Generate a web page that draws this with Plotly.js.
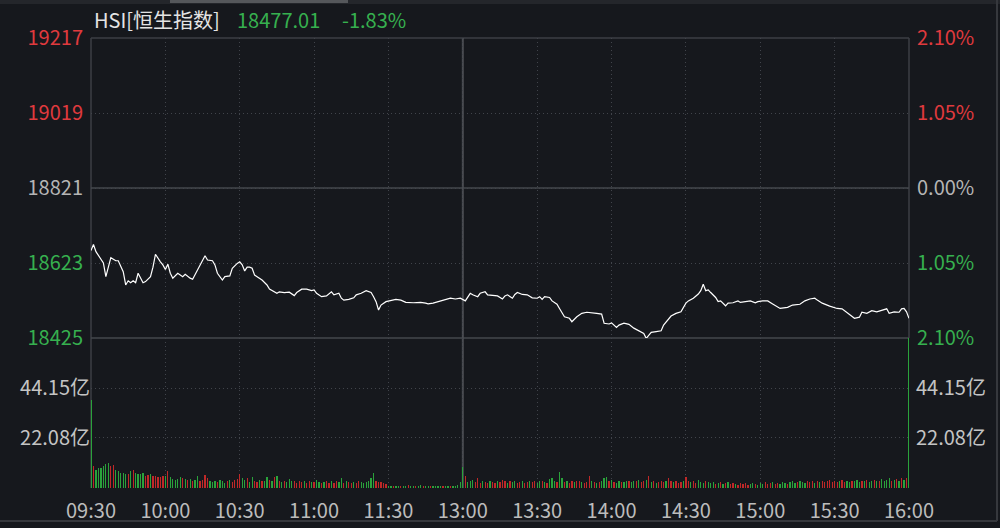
<!DOCTYPE html>
<html><head><meta charset="utf-8">
<script src="https://cdn.plot.ly/plotly-3.0.1.min.js"></script>
<style>html,body{margin:0;padding:0;background:#16181d;}#chart{width:1000px;height:528px;}</style>
</head><body><div id="chart"></div>
<script>
// ---- data ----
const tickMinutes = [0,30,60,90,120,150,180,210,240,270,300,330];
const tickLabels = ['09:30','10:00','10:30','11:00','11:30','13:00','13:30','14:00','14:30','15:00','15:30','16:00'];
const priceMinutes = [0,1,2,5,6,8,10,11,13,14,15,16,17,18,19,21,22,24,25,26,28,29,30,31,32,33,35,37,38,39,40,41,43,44,46,47,49,50,51,53,54,56,57,59,60,61,62,63,64,65,66,67,69,71,72,75,76,78,80,82,83,85,87,89,90,91,93,95,97,98,100,101,102,104,106,107,109,111,113,114,115,116,117,119,120,121,123,125,127,130,133,135,136,138,140,141,143,145,147,149,151,153,154,156,157,158,159,160,162,164,166,167,168,170,171,172,174,176,178,180,181,182,183,185,186,188,189,191,193,194,196,198,200,202,204,206,207,209,210,212,213,215,217,219,221,223,224,226,228,230,231,233,234,236,238,240,241,243,245,246,247,248,249,250,252,253,254,256,257,259,261,262,264,266,268,269,271,273,275,278,281,283,286,288,290,292,293,295,298,301,303,305,308,310,311,313,315,317,319,321,322,324,326,327,328,329,330];
const priceValues = [18656,18672,18653,18623,18587,18637,18629,18629,18600,18565,18576,18571,18576,18571,18596,18571,18574,18587,18612,18646,18626,18618,18606,18620,18596,18583,18596,18587,18593,18587,18583,18580,18605,18618,18642,18631,18629,18618,18596,18578,18587,18589,18609,18622,18626,18618,18602,18612,18612,18609,18591,18587,18578,18565,18554,18543,18547,18545,18546,18537,18545,18554,18554,18550,18552,18543,18534,18536,18547,18539,18543,18530,18525,18527,18531,18539,18543,18550,18545,18534,18521,18499,18512,18521,18523,18523,18527,18525,18519,18518,18519,18517,18515,18517,18521,18521,18525,18530,18528,18530,18523,18543,18539,18534,18543,18545,18547,18539,18538,18536,18528,18536,18539,18530,18540,18545,18540,18539,18531,18530,18534,18527,18534,18532,18523,18514,18503,18481,18477,18468,18481,18490,18493,18492,18490,18488,18464,18462,18465,18453,18459,18464,18461,18451,18443,18437,18424,18440,18442,18444,18459,18475,18483,18490,18494,18517,18523,18530,18541,18550,18567,18550,18552,18545,18532,18521,18523,18510,18517,18518,18523,18519,18521,18523,18518,18521,18523,18523,18515,18503,18506,18512,18514,18523,18528,18530,18525,18517,18509,18503,18502,18492,18477,18480,18493,18490,18497,18494,18497,18502,18490,18494,18493,18502,18503,18494,18477.01];
// turnover per minute (亿), minutes 0..330
const volumeValues = [
38.9,9.6,8.1,8.8,8.8,9.6,10.6,11.0,9.6,10.0,
8.1,7.4,6.6,6.6,6.2,6.2,7.4,8.1,6.6,6.2,
6.2,6.6,5.5,5.9,6.2,5.2,5.2,4.9,4.9,5.2,
5.2,7.4,4.9,4.1,3.7,4.1,4.9,4.4,4.1,3.7,
4.1,3.0,3.7,5.2,3.3,3.7,5.9,4.4,3.0,2.6,
3.3,2.6,3.7,3.3,2.2,3.0,3.7,2.6,3.7,4.1,
6.2,4.4,3.7,4.4,2.6,4.9,3.3,2.6,3.7,3.0,
3.3,4.9,3.7,3.0,4.9,5.5,3.0,2.6,3.3,2.6,
4.1,3.3,3.0,2.2,3.0,2.6,3.0,2.2,3.3,2.6,
2.6,3.7,2.6,2.2,2.6,3.0,2.2,3.0,2.2,3.0,
2.6,4.4,2.2,3.0,2.6,2.2,2.6,2.2,3.0,2.6,
2.2,2.6,3.0,4.4,6.6,3.3,2.6,2.6,2.2,1.8,
0.9,0.7,1.1,0.7,0.9,1.1,0.7,0.9,1.3,0.7,
0.9,0.7,0.9,1.3,0.7,0.9,0.7,1.1,0.9,0.7,
0.7,0.9,1.1,0.7,0.9,1.1,0.7,0.9,1.5,2.6,
9.1,5.2,2.6,3.3,3.7,2.6,4.4,2.2,3.0,2.6,
2.2,3.0,2.6,2.2,3.3,2.6,3.7,3.0,2.2,3.3,
2.6,3.0,2.2,2.6,3.0,2.2,2.6,3.3,2.6,3.0,
2.2,3.3,3.0,2.6,2.2,4.1,4.4,3.0,2.6,7.0,
4.4,2.6,3.0,2.2,3.3,2.6,3.0,3.3,2.6,2.2,
2.6,5.5,3.0,2.6,2.2,2.6,3.0,4.4,4.9,3.0,
3.7,2.6,2.2,3.0,2.6,2.6,3.0,3.3,2.6,3.0,
3.3,3.7,2.6,3.0,3.7,5.3,2.6,3.0,2.2,2.6,
3.0,2.6,3.3,4.4,3.0,2.6,3.3,2.2,2.6,3.0,
4.9,3.0,2.6,3.3,2.2,3.7,2.6,2.2,3.0,2.6,
2.2,2.6,1.8,2.2,2.6,1.8,2.2,2.6,1.8,2.2,
1.8,1.3,2.2,1.8,2.2,1.3,1.8,2.2,1.8,1.3,
2.2,1.8,2.6,1.8,2.2,2.6,1.8,2.2,1.8,2.6,
2.2,1.8,2.6,3.0,2.2,2.6,3.0,2.6,2.2,3.0,
2.6,3.3,2.2,3.0,2.6,3.3,2.6,3.0,3.7,2.6,
3.3,2.6,3.0,3.7,2.6,3.3,2.6,3.0,3.3,3.7,
2.6,3.3,3.0,3.7,2.6,3.3,3.7,3.0,3.3,4.1,
3.3,3.7,4.4,3.0,3.7,4.1,3.3,4.4,3.7,4.4,
80.0];
// g = down minute, r = up minute
const volumeDirection = ("grggggggrr"+"gggggrgrgg"+"ggrrgrrrrr"+"grgggggrgr"+"grggrrrrgg"+"grgggrgrrr"+"rggrggrrgr"+"ggrgrgrgrg"+"ggrrrrgrrg"+"rggrgrrgrr"+
  "ggrgrrgrrg"+"gggggrrrrr"+"ggrggrggrg"+"grggrggrgg"+"ggrggrgggg"+"grgggrrrgr"+"rgrrgrrrgr"+"ggrrgrrgrr"+"ggrgrgggrg"+"grgrrgrrgr"+
  "rrgrgrgggr"+"grggrggrgg"+"rgrrgrgrgr"+"rrgrrgrrrg"+"rrgrrgggrg"+"ggrgrgrgrr"+"grrrrrggrg"+"ggrrrgrrgg"+"grgggrgggr"+"rrgrgrrrrr"+
  "rrgrrggrgg"+"grgrggrgrg"+"gggrgrgrgr"+"g").split('');
const minuteIndex = volumeValues.map((v,i)=>i);
const prevClose = 18821;
const priceTicks = [18425,18623,18821,19019,19217];
const priceTickText = ['18425','18623','18821','19019','19217'];
const pctTickText = ['2.10%','1.05%','0.00%','1.05%','2.10%'];
const volTicks = [22.08,44.15];
const volTickText = ['22.08亿','44.15亿'];
const volMax = 66.23;
const titleName = 'HSI[恒生指数]';
const lastPrice = '18477.01';
const changePct = '-1.83%';

// ---- style ----
const BG = '#16181d', RED = '#e03a3e', GREEN = '#36b04f', GRAYTXT = '#b5b5b5', GRID = '#41444b', LINE = '#3c3e44';
const FONT = '"Microsoft YaHei","Noto Sans CJK SC","Noto Sans",sans-serif';
const FS = 20;
const L = 91, R = 909, T = 38, B = 488, W = 1000, H = 528;
const px = x => (x - L) / (R - L);
const py = y => (B - y) / (B - T);
function colorFor(i, n){ const mid = (n-1)/2; return i > mid ? RED : (i < mid ? GREEN : GRAYTXT); }
const priceTT = priceTickText.map((t,i)=>`<span style="color:${colorFor(i,5)}">${t}</span>`);
const pctTT = pctTickText.map((t,i)=>`<span style="color:${colorFor(i,5)}">${t}</span>`);
const DOTS = '1px,3px';

const traces = [
  {type:'bar', x:minuteIndex, y:volumeValues, xaxis:'x2', yaxis:'y2', width:0.5,
   marker:{color:volumeDirection.map(d=>d==='g'?'#2aa23b':'#bf2828'), line:{width:0}}, hoverinfo:'skip'},
  {type:'bar', x:minuteIndex, y:volumeValues, xaxis:'x2', yaxis:'y4', width:0.5, opacity:0,
   marker:{color:BG}, hoverinfo:'skip'},
  {type:'scatter', mode:'lines', x:priceMinutes, y:priceValues, xaxis:'x', yaxis:'y',
   line:{color:'#ffffff', width:1.2}, hoverinfo:'skip'},
  {type:'scatter', mode:'lines', x:priceMinutes, y:priceValues, xaxis:'x', yaxis:'y3',
   line:{color:'rgba(0,0,0,0)', width:0}, hoverinfo:'skip'}
];

const axisCommon = {showline:false, zeroline:false, fixedrange:true};
const layout = {
  width:W, height:H, paper_bgcolor:BG, plot_bgcolor:BG, showlegend:false, bargap:0,
  margin:{l:L, r:W-R, t:T, b:H-B},
  font:{family:FONT, size:FS, color:GRAYTXT},
  xaxis:Object.assign({}, axisCommon, {domain:[0,1], anchor:'y', range:[0,330], tickvals:tickMinutes, showticklabels:false,
    showgrid:true, gridcolor:GRID, griddash:DOTS, gridwidth:1}),
  xaxis2:Object.assign({}, axisCommon, {domain:[0,1], anchor:'y2', range:[0,330], tickvals:tickMinutes, ticktext:tickLabels,
    showgrid:true, gridcolor:GRID, griddash:DOTS, gridwidth:1, ticks:'outside', ticklen:5, tickcolor:BG,
    tickfont:{size:FS, color:'#bcbcbc'}}),
  yaxis:Object.assign({}, axisCommon, {domain:[1/3,1], anchor:'x', range:[18425,19217], tickvals:priceTicks, ticktext:priceTT,
    showgrid:true, gridcolor:GRID, griddash:DOTS, ticks:'outside', ticklen:3, tickcolor:BG, tickfont:{size:FS}}),
  yaxis3:Object.assign({}, axisCommon, {overlaying:'y', side:'right', anchor:'x', range:[18425,19217], tickvals:priceTicks, ticktext:pctTT,
    showgrid:false, ticks:'outside', ticklen:3, tickcolor:BG, tickfont:{size:FS}}),
  yaxis2:Object.assign({}, axisCommon, {domain:[0,1/3], anchor:'x2', range:[0,volMax], tickvals:volTicks, ticktext:volTickText,
    showgrid:true, gridcolor:GRID, griddash:DOTS, ticks:'', tickfont:{size:FS, color:'#c4c4c4'}}),
  yaxis4:Object.assign({}, axisCommon, {overlaying:'y2', side:'right', anchor:'x2', range:[0,volMax], tickvals:volTicks, ticktext:volTickText,
    showgrid:false, ticks:'outside', ticklen:2, tickcolor:BG, tickfont:{size:FS, color:'#c4c4c4'}}),
  shapes:[
    // frame
    {type:'line', xref:'paper', yref:'paper', x0:0, x1:0, y0:0, y1:1, line:{color:LINE, width:1.5}, layer:'between'},
    {type:'line', xref:'paper', yref:'paper', x0:0, x1:1, y0:1, y1:1, line:{color:LINE, width:1.5}, layer:'between'},
    {type:'line', xref:'paper', yref:'paper', x0:1, x1:1, y0:1/3, y1:1, line:{color:LINE, width:1.5}, layer:'between'},
    {type:'line', xref:'paper', yref:'paper', x0:0, x1:1, y0:1/3, y1:1/3, line:{color:'#45474c', width:1.5}, layer:'between'},
    // previous close line
    {type:'line', xref:'paper', yref:'y', x0:0, x1:1, y0:prevClose, y1:prevClose, line:{color:'#45474c', width:1.5}, layer:'between'},
    // lunch break divider at 13:00
    {type:'line', xref:'x', yref:'paper', x0:150, x1:150, y0:0, y1:1, line:{color:'#4a4c52', width:2}, layer:'between'},
    // window chrome
    {type:'rect', xref:'paper', yref:'paper', x0:px(0), x1:px(1000), y0:py(4), y1:py(0), fillcolor:'#24262b', line:{width:0}},
    {type:'rect', xref:'paper', yref:'paper', x0:px(170), x1:px(348), y0:py(3), y1:py(0), fillcolor:'#55575b', line:{width:0}},
    {type:'line', xref:'paper', yref:'paper', x0:px(0), x1:px(997), y0:py(521), y1:py(521), line:{color:'#36383d', width:2}},
    {type:'line', xref:'paper', yref:'paper', x0:px(997), x1:px(997), y0:py(521), y1:py(0), line:{color:'#36383d', width:2}}
  ],
  annotations:[
    {xref:'paper', yref:'paper', x:px(92), y:py(20), xanchor:'left', yanchor:'middle', showarrow:false,
     text:titleName, font:{size:FS, color:'#e4e4e4', family:FONT}},
    {xref:'paper', yref:'paper', x:px(235), y:py(20), xanchor:'left', yanchor:'middle', showarrow:false,
     text:lastPrice, font:{size:FS, color:GREEN, family:FONT}},
    {xref:'paper', yref:'paper', x:px(340), y:py(20), xanchor:'left', yanchor:'middle', showarrow:false,
     text:changePct, font:{size:FS, color:GREEN, family:FONT}}
  ]
};
Plotly.newPlot('chart', traces, layout, {staticPlot:true, displayModeBar:false});
</script></body></html>
